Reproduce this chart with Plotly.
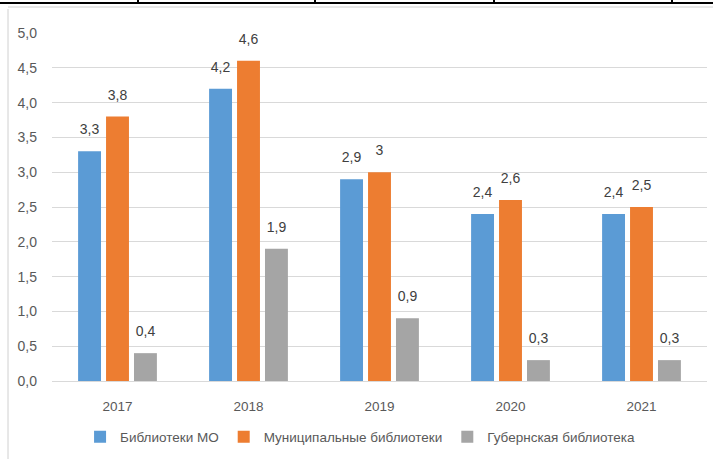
import plotly.graph_objects as go

years = ["2017", "2018", "2019", "2020", "2021"]
mo = [3.3, 4.2, 2.9, 2.4, 2.4]
mun = [3.8, 4.6, 3.0, 2.6, 2.5]
gub = [0.4, 1.9, 0.9, 0.3, 0.3]
names = ["Библиотеки МО", "Муниципальные библиотеки", "Губернская библиотека"]
colors = ["#5b9bd5", "#ed7d31", "#a5a5a5"]
y_ticks = [0, 0.5, 1, 1.5, 2, 2.5, 3, 3.5, 4, 4.5, 5]


def fmt(v):
    s = ("%.1f" % v).replace(".", ",")
    if s.endswith(",0"):
        s = s[:-2]
    return s


GAP = 0.36
fig = go.Figure()
for vals, name, col in zip([mo, mun, gub], names, colors):
    fig.add_trace(go.Bar(
        x=years, y=vals, name=name, marker_color=col, marker_line_width=0,
    ))
for vals, name in zip([mo, mun, gub], names):
    fig.add_trace(go.Scatter(
        x=years, y=vals, mode="markers+text", showlegend=False, hoverinfo="skip",
        marker=dict(size=20, color="rgba(0,0,0,0)"),
        text=[fmt(v) for v in vals], textposition="top center",
        textfont=dict(color="#404040", size=14), cliponaxis=False,
    ))

L, R, T, B = 52, 6, 33, 78
PW, PH = 713 - L - R, 459 - T - B

fig.update_layout(
    width=713, height=459,
    margin=dict(l=L, r=R, t=T, b=B, autoexpand=False),
    paper_bgcolor="white", plot_bgcolor="white",
    font=dict(family="Liberation Sans, Arial, sans-serif", color="#595959", size=12),
    barmode="group", bargap=GAP, bargroupgap=0.18,
    scattermode="group", scattergap=GAP,
    showlegend=True,
    legend=dict(orientation="h", x=0.505, xanchor="center", xref="container",
                y=1 - 437 / 459, yanchor="middle", yref="container",
                font=dict(size=13.5, color="#595959"), itemwidth=30,
                traceorder="normal"),
    shapes=[
        dict(type="line", xref="paper", yref="paper", x0=-L / PW, x1=1 + R / PW,
             y0=1 + 30 / PH, y1=1 + 30 / PH, line=dict(color="black", width=2)),
        dict(type="line", xref="paper", yref="paper", x0=(8 - L) / PW, x1=(8 - L) / PW,
             y0=-B / PH, y1=1 + 24 / PH, line=dict(color="#d0d0d0", width=1)),
        dict(type="line", xref="paper", yref="paper", x0=(8 - L) / PW, x1=1 + R / PW,
             y0=1 + 26 / PH, y1=1 + 26 / PH, line=dict(color="#d0d0d0", width=1)),
    ] + [
        dict(type="line", xref="paper", yref="paper", x0=(px - L) / PW, x1=(px - L) / PW,
             y0=1 + 30 / PH, y1=1 + 33 / PH, line=dict(color="black", width=2))
        for px in [138, 315, 494, 672]
    ],
)
fig.update_yaxes(range=[0, 5], tickvals=y_ticks,
                 ticktext=[("%.1f" % v).replace(".", ",") for v in y_ticks],
                 showgrid=True, gridcolor="#d9d9d9", gridwidth=1,
                 zeroline=False, showline=False, ticks="", ticklabelstandoff=14,
                 tickfont=dict(size=14, color="#595959"))
fig.update_xaxes(showline=True, linecolor="#d9d9d9", linewidth=1, ticks="",
                 ticklabelstandoff=13,
                 tickfont=dict(size=13.5, color="#595959"))

fig.write_html("out.html", config={"displayModeBar": False},
               post_script="document.body.style.margin='0px';document.body.style.overflow='hidden';")
